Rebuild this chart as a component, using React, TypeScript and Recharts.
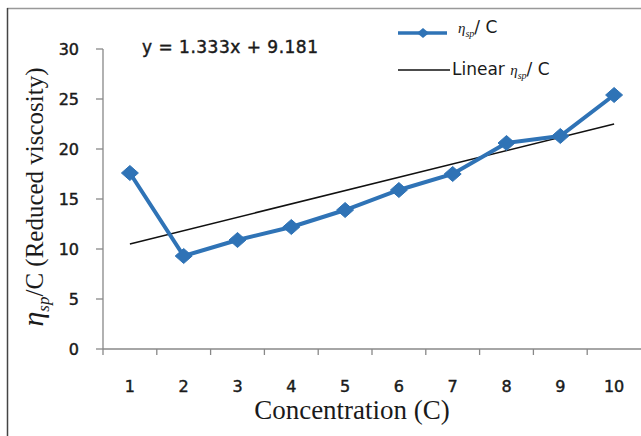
import React from 'react';
import { ComposedChart, Line, XAxis, YAxis } from 'recharts';

const categories = ['1', '2', '3', '4', '5', '6', '7', '8', '9', '10'];
const etaSpC = [17.6, 9.3, 10.9, 12.2, 13.9, 15.9, 17.5, 20.6, 21.3, 25.4];
const trendStart = 10.51;
const trendEnd = 22.51;
const yTicks = [0, 5, 10, 15, 20, 25, 30];
const equationText = 'y = 1.333x + 9.181';
const xTitle = 'Concentration (C)';

const data = categories.map((c, i) => ({
  c,
  v: etaSpC[i],
  trend: i === 0 ? trendStart : i === categories.length - 1 ? trendEnd : null,
}));

const BLUE = '#2F73B6';
const SANS = '"DejaVu Sans", Verdana, sans-serif';
const SERIF = '"Liberation Serif", "Times New Roman", serif';

const Diamond = (props: any) => {
  const { cx, cy, index } = props;
  if (cx == null || cy == null) return <g key={`d-${index}`} />;
  const w = 8.5;
  const h = 7.5;
  return (
    <path
      key={`d-${index}`}
      d={`M${cx},${cy - h} L${cx + w},${cy} L${cx},${cy + h} L${cx - w},${cy} Z`}
      fill={BLUE}
      stroke={BLUE}
      strokeWidth={1}
    />
  );
};

const XTick = (props: any) => {
  const { x, y, payload } = props;
  const off = payload && payload.offset ? payload.offset : 0;
  return (
    <g>
      <line x1={x - off} x2={x - off} y1={y - 6} y2={y} stroke="#888" strokeWidth={1.3} />
      <text
        x={x}
        y={y + 37}
        textAnchor="middle"
        fill="#1a1a1a"
        stroke="#1a1a1a"
        strokeWidth={0.45}
        fontFamily={SANS}
        fontSize={16}
      >
        {payload.value}
      </text>
    </g>
  );
};

const Eta = ({ size, subSize }: { size: number; subSize: number }) => (
  <>
    <tspan fontFamily={SERIF} fontStyle="italic" fontSize={size}>η</tspan>
    <tspan fontFamily={SERIF} fontStyle="italic" fontSize={subSize} dy={subSize * 0.35}>sp</tspan>
  </>
);

export default function App() {
  return (
    <div style={{ position: 'absolute', left: 0, top: 0, width: 641, height: 436, background: '#fff' }}>
      <ComposedChart
        width={641}
        height={436}
        data={data}
        margin={{ top: 49, right: 0, bottom: 47, left: 43 }}
      >
        <XAxis
          dataKey="c"
          scale="band"
          interval={0}
          height={40}
          axisLine={{ stroke: '#888', strokeWidth: 1.3 }}
          tickLine={false}
          tickSize={6}
          tickMargin={0}
          tick={<XTick />}
        />
        <YAxis
          domain={[0, 30]}
          ticks={yTicks}
          width={60}
          axisLine={{ stroke: '#888', strokeWidth: 1.3 }}
          tickLine={{ stroke: '#888', strokeWidth: 1.3 }}
          tickSize={7}
          tickMargin={17}
          tick={{ fill: '#1a1a1a', stroke: '#1a1a1a', strokeWidth: 0.45, fontSize: 16, fontFamily: SANS }}
        />
        <Line
          dataKey="trend"
          stroke="#111"
          strokeWidth={1.5}
          dot={false}
          activeDot={false}
          connectNulls
          isAnimationActive={false}
        />
        <Line
          dataKey="v"
          stroke={BLUE}
          strokeWidth={4}
          dot={Diamond}
          activeDot={false}
          isAnimationActive={false}
        />
      </ComposedChart>
      <svg
        width={641}
        height={436}
        style={{ position: 'absolute', left: 0, top: 0, pointerEvents: 'none' }}
      >
        <line x1={7} x2={641} y1={8.5} y2={8.5} stroke="#999" strokeWidth={1.5} />
        <line x1={7.5} x2={7.5} y1={8} y2={436} stroke="#444" strokeWidth={1.5} />
        <text
          x={142}
          y={53}
          fill="#1a1a1a"
          stroke="#1a1a1a"
          strokeWidth={0.45}
          fontFamily={SANS}
          fontSize={17}
          textLength={176}
          lengthAdjust="spacing"
        >
          {equationText}
        </text>
        {/* legend */}
        <line x1={398} x2={447} y1={33} y2={33} stroke={BLUE} strokeWidth={3.5} />
        <path d="M423,28 L429,33 L423,38 L417,33 Z" fill={BLUE} />
        <text x={458} y={33} fill="#1a1a1a" fontFamily={SANS} fontSize={17}>
          <Eta size={15} subSize={10} />
          <tspan dy={-3.5}>/ C</tspan>
        </text>
        <line x1={398} x2={450} y1={70} y2={70} stroke="#111" strokeWidth={1.5} />
        <text x={452} y={75} fill="#1a1a1a" fontFamily={SANS} fontSize={17}>
          <tspan>Linear </tspan>
          <Eta size={15} subSize={10} />
          <tspan dy={-3.5}>/ C</tspan>
        </text>
        {/* axis titles */}
        <text
          x={352}
          y={419}
          textAnchor="middle"
          fill="#1a1a1a"
          fontFamily={SERIF}
          fontSize={27}
        >
          {xTitle}
        </text>
        <g transform="translate(43,197) rotate(-90)">
          <text x={0} y={0} textAnchor="middle" fill="#1a1a1a" fontFamily={SERIF} fontSize={25}>
            <tspan fontStyle="italic" fontSize={30}>η</tspan>
            <tspan fontStyle="italic" fontSize={17} dy={6}>sp</tspan>
            <tspan dy={-6}>/C (Reduced viscosity)</tspan>
          </text>
        </g>
      </svg>
    </div>
  );
}
